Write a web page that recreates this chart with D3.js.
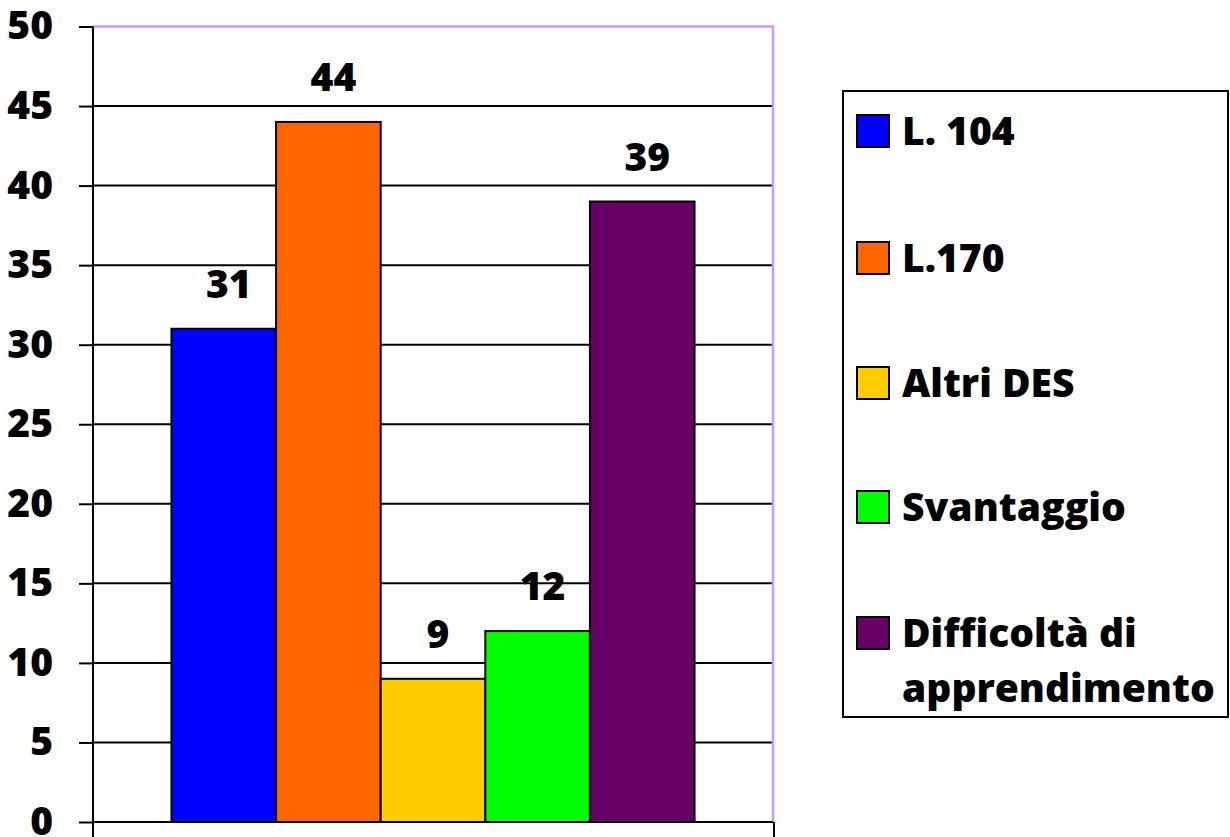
<!DOCTYPE html>
<html>
<head>
<meta charset="utf-8">
<script src="https://cdn.jsdelivr.net/npm/d3@7"></script>
<style>
  html, body { margin: 0; padding: 0; background: #fff; }
  svg { display: block; }
  text { font-family: "Open Sans", sans-serif; font-weight: 800; fill: #000; }
</style>
</head>
<body>
<svg id="chart" width="1230" height="837"></svg>
<script>
// ---- data ----
const seriesNames = ["L. 104", "L.170", "Altri DES", "Svantaggio", "Difficoltà di apprendimento"];
const legendLines = [["L. 104"], ["L.170"], ["Altri DES"], ["Svantaggio"], ["Difficoltà di", "apprendimento"]];
const seriesValues = [31, 44, 9, 12, 39];
const seriesColors = ["#0000FF", "#FF6600", "#FFCC00", "#00FF00", "#660066"];
const yTicks = [0, 5, 10, 15, 20, 25, 30, 35, 40, 45, 50];

// ---- layout ----
const svg = d3.select("#chart");
const plot = { left: 93, right: 773, top: 26.5, bottom: 822 };
const fontSize = 39;

const y = d3.scaleLinear().domain([0, 50]).range([plot.bottom, plot.top]);
const x = d3.scaleBand().domain(seriesNames).range([plot.left, plot.right])
  .paddingInner(0).paddingOuter(0.75);

// gridlines
svg.append("g").selectAll("line").data(yTicks.filter(d => d > 0 && d < 50)).join("line")
  .attr("x1", plot.left).attr("x2", plot.right)
  .attr("y1", d => y(d)).attr("y2", d => y(d))
  .attr("stroke", "#000").attr("stroke-width", 2);

// plot border (top & right), purple
svg.append("path")
  .attr("d", `M${plot.left},${y(50)}H${plot.right}V${plot.bottom}`)
  .attr("fill", "none").attr("stroke", "#CC99FF").attr("stroke-width", 2.5);

// y axis
const yAxis = d3.axisLeft(y).tickValues(yTicks).tickSize(14).tickPadding(26);
const gy = svg.append("g").attr("transform", `translate(${plot.left},0)`).call(yAxis);
gy.select(".domain").remove();
gy.selectAll(".tick line").attr("stroke", "#000").attr("stroke-width", 2);
gy.selectAll(".tick text").style("font-size", fontSize + "px")
  .style("font-family", "'Open Sans', sans-serif").style("font-weight", "800")
  .attr("fill", "#000");
svg.append("line").attr("x1", plot.left).attr("x2", plot.left)
  .attr("y1", y(50)).attr("y2", 837).attr("stroke", "#000").attr("stroke-width", 2);

// x axis
svg.append("line").attr("x1", plot.left).attr("x2", plot.right)
  .attr("y1", plot.bottom).attr("y2", plot.bottom).attr("stroke", "#000").attr("stroke-width", 2);
svg.append("line").attr("x1", plot.right + 1).attr("x2", plot.right + 1)
  .attr("y1", plot.bottom).attr("y2", 837).attr("stroke", "#000").attr("stroke-width", 2);

// bars
const data = seriesNames.map((n, i) => ({ name: n, value: seriesValues[i], color: seriesColors[i] }));
svg.append("g").selectAll("rect").data(data).join("rect")
  .attr("x", d => x(d.name))
  .attr("y", d => y(d.value))
  .attr("width", x.bandwidth())
  .attr("height", d => y(0) - y(d.value))
  .attr("fill", d => d.color)
  .attr("stroke", "#000").attr("stroke-width", 2);

// value labels
svg.append("g").selectAll("text").data(data).join("text")
  .attr("x", d => x(d.name) + x.bandwidth() / 2 + 5)
  .attr("y", d => y(d.value) - 31)
  .attr("text-anchor", "middle")
  .style("font-size", fontSize + "px")
  .text(d => d.value);

// legend
const legend = svg.append("g");
legend.append("rect").attr("x", 843).attr("y", 91).attr("width", 385).attr("height", 626)
  .attr("fill", "#fff").attr("stroke", "#000").attr("stroke-width", 2);
const rowY = [131, 258, 383, 507, 633];
const items = legend.selectAll("g.item").data(data).join("g").attr("class", "item");
items.append("rect")
  .attr("x", 857).attr("y", (d, i) => rowY[i] - 16).attr("width", 32).attr("height", 32)
  .attr("fill", d => d.color).attr("stroke", "#000").attr("stroke-width", 2);
items.each(function(d, i) {
  const g = d3.select(this);
  legendLines[i].forEach((line, j) => {
    g.append("text").attr("x", 902).attr("y", rowY[i] + 14 + j * 55)
      .style("font-size", fontSize + "px").text(line);
  });
});
</script>
</body>
</html>
